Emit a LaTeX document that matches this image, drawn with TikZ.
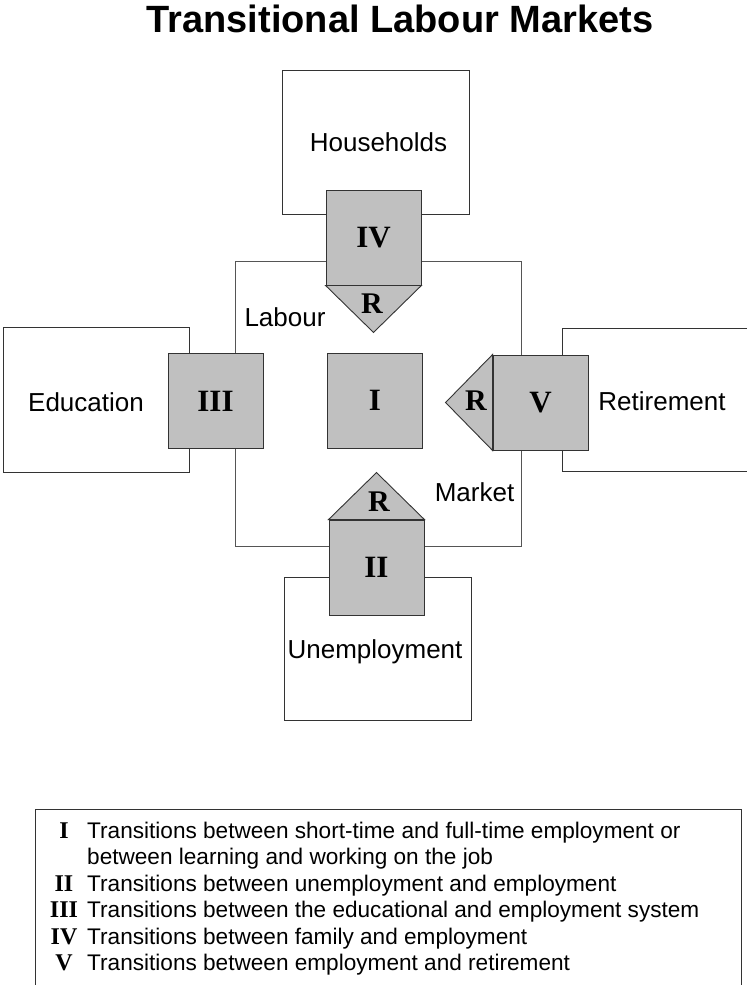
\documentclass[tikz,border=0pt]{standalone}
\usepackage{fontspec}
\setmainfont{Liberation Sans}
\newfontfamily\romfont{Liberation Serif}
\usetikzlibrary{calc}
\definecolor{boxgray}{HTML}{C0C0C0}
\definecolor{edgedark}{HTML}{333333}
\definecolor{edgemid}{HTML}{555555}
\tikzset{
  areabox/.style={draw=edgedark, line width=0.9pt},
  labourbox/.style={draw=edgemid, line width=0.9pt},
  sq/.style={draw=edgedark, fill=boxgray, line width=0.9pt, minimum width=95pt, minimum height=95pt, inner sep=0pt, font=\romfont\bfseries\fontsize{31}{34}\selectfont},
  tri/.style={draw=edgedark, fill=boxgray, line width=0.9pt, line join=miter},
  rlab/.style={inner sep=0pt, font=\romfont\bfseries\fontsize{30}{34}\selectfont},
  area/.style={inner sep=0pt, font=\fontsize{26}{30}\selectfont},
  legnum/.style={inner sep=0pt, anchor=base, font=\romfont\bfseries\fontsize{24}{26}\selectfont},
  legtxt/.style={inner sep=0pt, anchor=base west, font=\fontsize{22.6}{26}\selectfont}
}
\begin{document}
\begin{tikzpicture}[x=1pt,y=-1pt]
\useasboundingbox (0,0) rectangle (747,985);
% title
\node[inner sep=0pt, anchor=base, font=\bfseries\fontsize{38}{42}\selectfont] (title) at (400,32) {Transitional Labour Markets};
% outer areas
\draw[areabox] (282,70) rectangle (469,214);
\draw[areabox] (3,327) rectangle (189,472);
\draw[areabox] (747,328) -- (562,328) -- (562,471) -- (747,471);
\draw[areabox] (284,577) rectangle (471,720);
\draw[labourbox] (235,261) rectangle (521,546);
% labels
\node[area] (hh) at (378.5,142) {Households};
\node[area] (lab) at (285,317) {Labour};
\node[area] (edu) at (86,402) {Education};
\node[area] (ret) at (662,401) {Retirement};
\node[area] (mkt) at (474.5,492) {Market};
\node[area] (unemp) at (375,652) {Unemployment};
% transition squares
\node[sq] (s4) at (373.5,237.5) {IV};
\node[sq] (s3) at (215.5,401) {III};
\node[sq] (s1) at (375,400.5) {I};
\node[sq] (s5) at (540.5,402.5) {V};
\node[sq] (s2) at (376.5,567.5) {II};
% R triangles
\coordinate (a4) at ($(s4.south)+(0,47)$);
\coordinate (a5) at ($(s5.west)+(-47,0)$);
\coordinate (a2) at ($(s2.north)+(0,-47)$);
\draw[tri] (s4.south west) -- (s4.south east) -- (a4) -- cycle;
\draw[tri] (s5.north west) -- (s5.south west) -- (a5) -- cycle;
\draw[tri] (s2.north west) -- (s2.north east) -- (a2) -- cycle;
\node[rlab] (r4) at (372,304) {R};
\node[rlab] (r5) at (476,401) {R};
\node[rlab] (r2) at (379,502) {R};
% legend
\draw[areabox] (35,985) -- (35,809) -- (741,809) -- (741,985);
\node[legnum] (n1) at (64,838) {I};
\node[legtxt] (t1) at (87,838) {Transitions between short-time and full-time employment or};
\node[legtxt] (t1b) at (87,864.5) {between learning and working on the job};
\node[legnum] (n2) at (64,891) {II};
\node[legtxt] (t2) at (87,891) {Transitions between unemployment and employment};
\node[legnum] (n3) at (64,917.5) {III};
\node[legtxt] (t3) at (87,917.5) {Transitions between the educational and employment system};
\node[legnum] (n4) at (64,944) {IV};
\node[legtxt] (t4) at (87,944) {Transitions between family and employment};
\node[legnum] (n5) at (64,970.5) {V};
\node[legtxt] (t5) at (87,970.5) {Transitions between employment and retirement};
\end{tikzpicture}
\end{document}
